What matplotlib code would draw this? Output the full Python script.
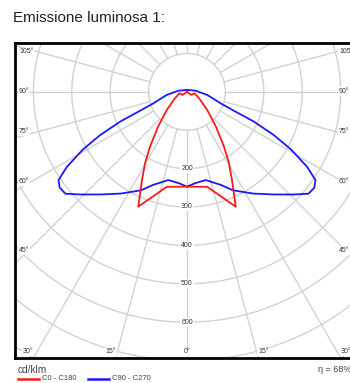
import numpy as np
import matplotlib
matplotlib.use('Agg')
import matplotlib.pyplot as plt

plt.rcParams['font.family'] = ['Liberation Sans', 'DejaVu Sans']

W, H, DPI = 350, 383, 100

# ---------------- data ----------------
title = "Emissione luminosa 1:"
unit_label = "cd/klm"
efficiency_label = "η = 68%"
series_names = ["C0 - C180", "C90 - C270"]
series_colors = ["#ff1a1a", "#1a1aff"]

# half-profile (gamma from nadir, degrees) and intensity (cd/klm); mirrored for the other half-plane
c0_angles = [0, 12, 23, 27, 30.5, 34, 39.7, 48, 61.6, 79, 55, 90]
c0_values = [247, 253, 325, 258, 215, 172, 118, 71, 36, 20, 14, 0]

c90_angles = [0, 5, 12, 20, 25, 33, 40, 46, 50, 53, 55.5, 58, 61, 63.5, 66, 68, 71, 81, 97, 180]
c90_values = [247, 239, 235, 258, 283, 316, 349, 385, 413, 415, 406, 369, 310, 253, 190, 132, 93, 54, 23, 5]

radial_ticks = [200, 300, 400, 500, 600]
grid_circles = [100, 200, 300, 400, 500, 600, 700, 800, 900]
grid_angles = list(range(0, 360, 15))
side_angle_labels = [45, 60, 75, 90, 105]
bottom_angle_labels = [0, 15, 30]

# ---------------- layout ----------------
px_per_unit = 0.384
cx_px, cy_px = 187.0, 91.8
ax_left_px, ax_right_px, ax_top_px, ax_bottom_px = 15.0, 359.0, 43.0, 358.0

fig = plt.figure(figsize=(W / DPI, H / DPI), dpi=DPI)
ax = fig.add_axes([ax_left_px / W, (H - ax_bottom_px) / H,
                   (ax_right_px - ax_left_px) / W, (ax_bottom_px - ax_top_px) / H])
xlim = ((ax_left_px - cx_px) / px_per_unit, (ax_right_px - cx_px) / px_per_unit)
ylim = (-(ax_bottom_px - cy_px) / px_per_unit, (cy_px - ax_top_px) / px_per_unit)
ax.set_xlim(*xlim)
ax.set_ylim(*ylim)
ax.set_xticks([])
ax.set_yticks([])
for sp in ax.spines.values():
    sp.set_linewidth(2.0)
    sp.set_color('black')

px = 1.0 / px_per_unit  # one pixel in data units
grid_color = '#d2d2d2'

# grid circles
t = np.linspace(0, 2 * np.pi, 400)
for r in grid_circles:
    ax.plot(r * np.sin(t), r * np.cos(t), color=grid_color, lw=1.0, zorder=1)
# radial lines
for g in grid_angles:
    a = np.radians(g)
    r0, r1 = grid_circles[0], 1200
    ax.plot([r0 * np.sin(a), r1 * np.sin(a)], [-r0 * np.cos(a), -r1 * np.cos(a)],
            color=grid_color, lw=1.0, zorder=1)

lab_color = '#333333'
bbox = dict(facecolor='white', edgecolor='none', pad=0.6)
for r in radial_ticks:
    ax.text(0, -r, str(r), ha='center', va='center', fontsize=5, color=lab_color,
            bbox=bbox, zorder=2)

# bottom angle labels
yb = ylim[0] + 6 * px
for g in bottom_angle_labels:
    xc = abs(ylim[0]) * np.tan(np.radians(g))
    if g == 0:
        ax.text(0, yb, f"{g}°", ha='center', va='center', fontsize=5, color=lab_color,
                bbox=bbox, zorder=2)
    else:
        ax.text(-xc, yb, f"{g}°", ha='right', va='center', fontsize=5, color=lab_color,
                bbox=bbox, zorder=2)
        ax.text(xc, yb, f"{g}°", ha='left', va='center', fontsize=5, color=lab_color,
                bbox=bbox, zorder=2)

# side angle labels
d = xlim[1] - 10 * px
for g in side_angle_labels:
    yy = -d / np.tan(np.radians(g)) if g != 90 else 0.0
    va = 'bottom' if g < 90 else ('center' if g == 90 else 'top')
    ax.text(xlim[0] + 4 * px, yy, f"{g}°", ha='left', va=va, fontsize=5, color=lab_color,
            bbox=bbox, zorder=2)
    ax.text(xlim[1] - 20 * px, yy, f"{g}°", ha='left', va=va, fontsize=5, color=lab_color,
            bbox=bbox, zorder=2)


def closed_curve(angles, values):
    a = np.radians(np.asarray(angles, float))
    v = np.asarray(values, float)
    full_a = np.concatenate([-a[::-1], a])
    full_v = np.concatenate([v[::-1], v])
    return full_v * np.sin(full_a), -full_v * np.cos(full_a)


x0, y0 = closed_curve(c0_angles, c0_values)
x9, y9 = closed_curve(c90_angles, c90_values)
ax.plot(x9, y9, color=series_colors[1], lw=1.3, zorder=3, solid_joinstyle='round')
ax.plot(x0, y0, color=series_colors[0], lw=1.3, zorder=4, solid_joinstyle='round')

# ---------------- texts outside ----------------
def fx(p):
    return p / W


def fy(p):
    return 1 - p / H


fig.text(fx(13), fy(17.5), title, fontsize=11, color='#222222', ha='left', va='center')
fig.text(fx(18), fy(370), unit_label, fontsize=7.3, color='#444444', ha='left', va='center')
fig.text(fx(318), fy(370), efficiency_label, fontsize=6.5, color='#444444', ha='left', va='center')

# legend
for i, (name, col) in enumerate(zip(series_names, series_colors)):
    x_start = [18, 88][i]
    fig.add_artist(plt.Line2D([fx(x_start), fx(x_start + 21)], [fy(379), fy(379)],
                              color=col, lw=1.8))
    fig.text(fx(x_start + 24), fy(379), name, fontsize=5.5, color='#444444',
             ha='left', va='center')

fig.savefig('out.png', dpi=DPI)
